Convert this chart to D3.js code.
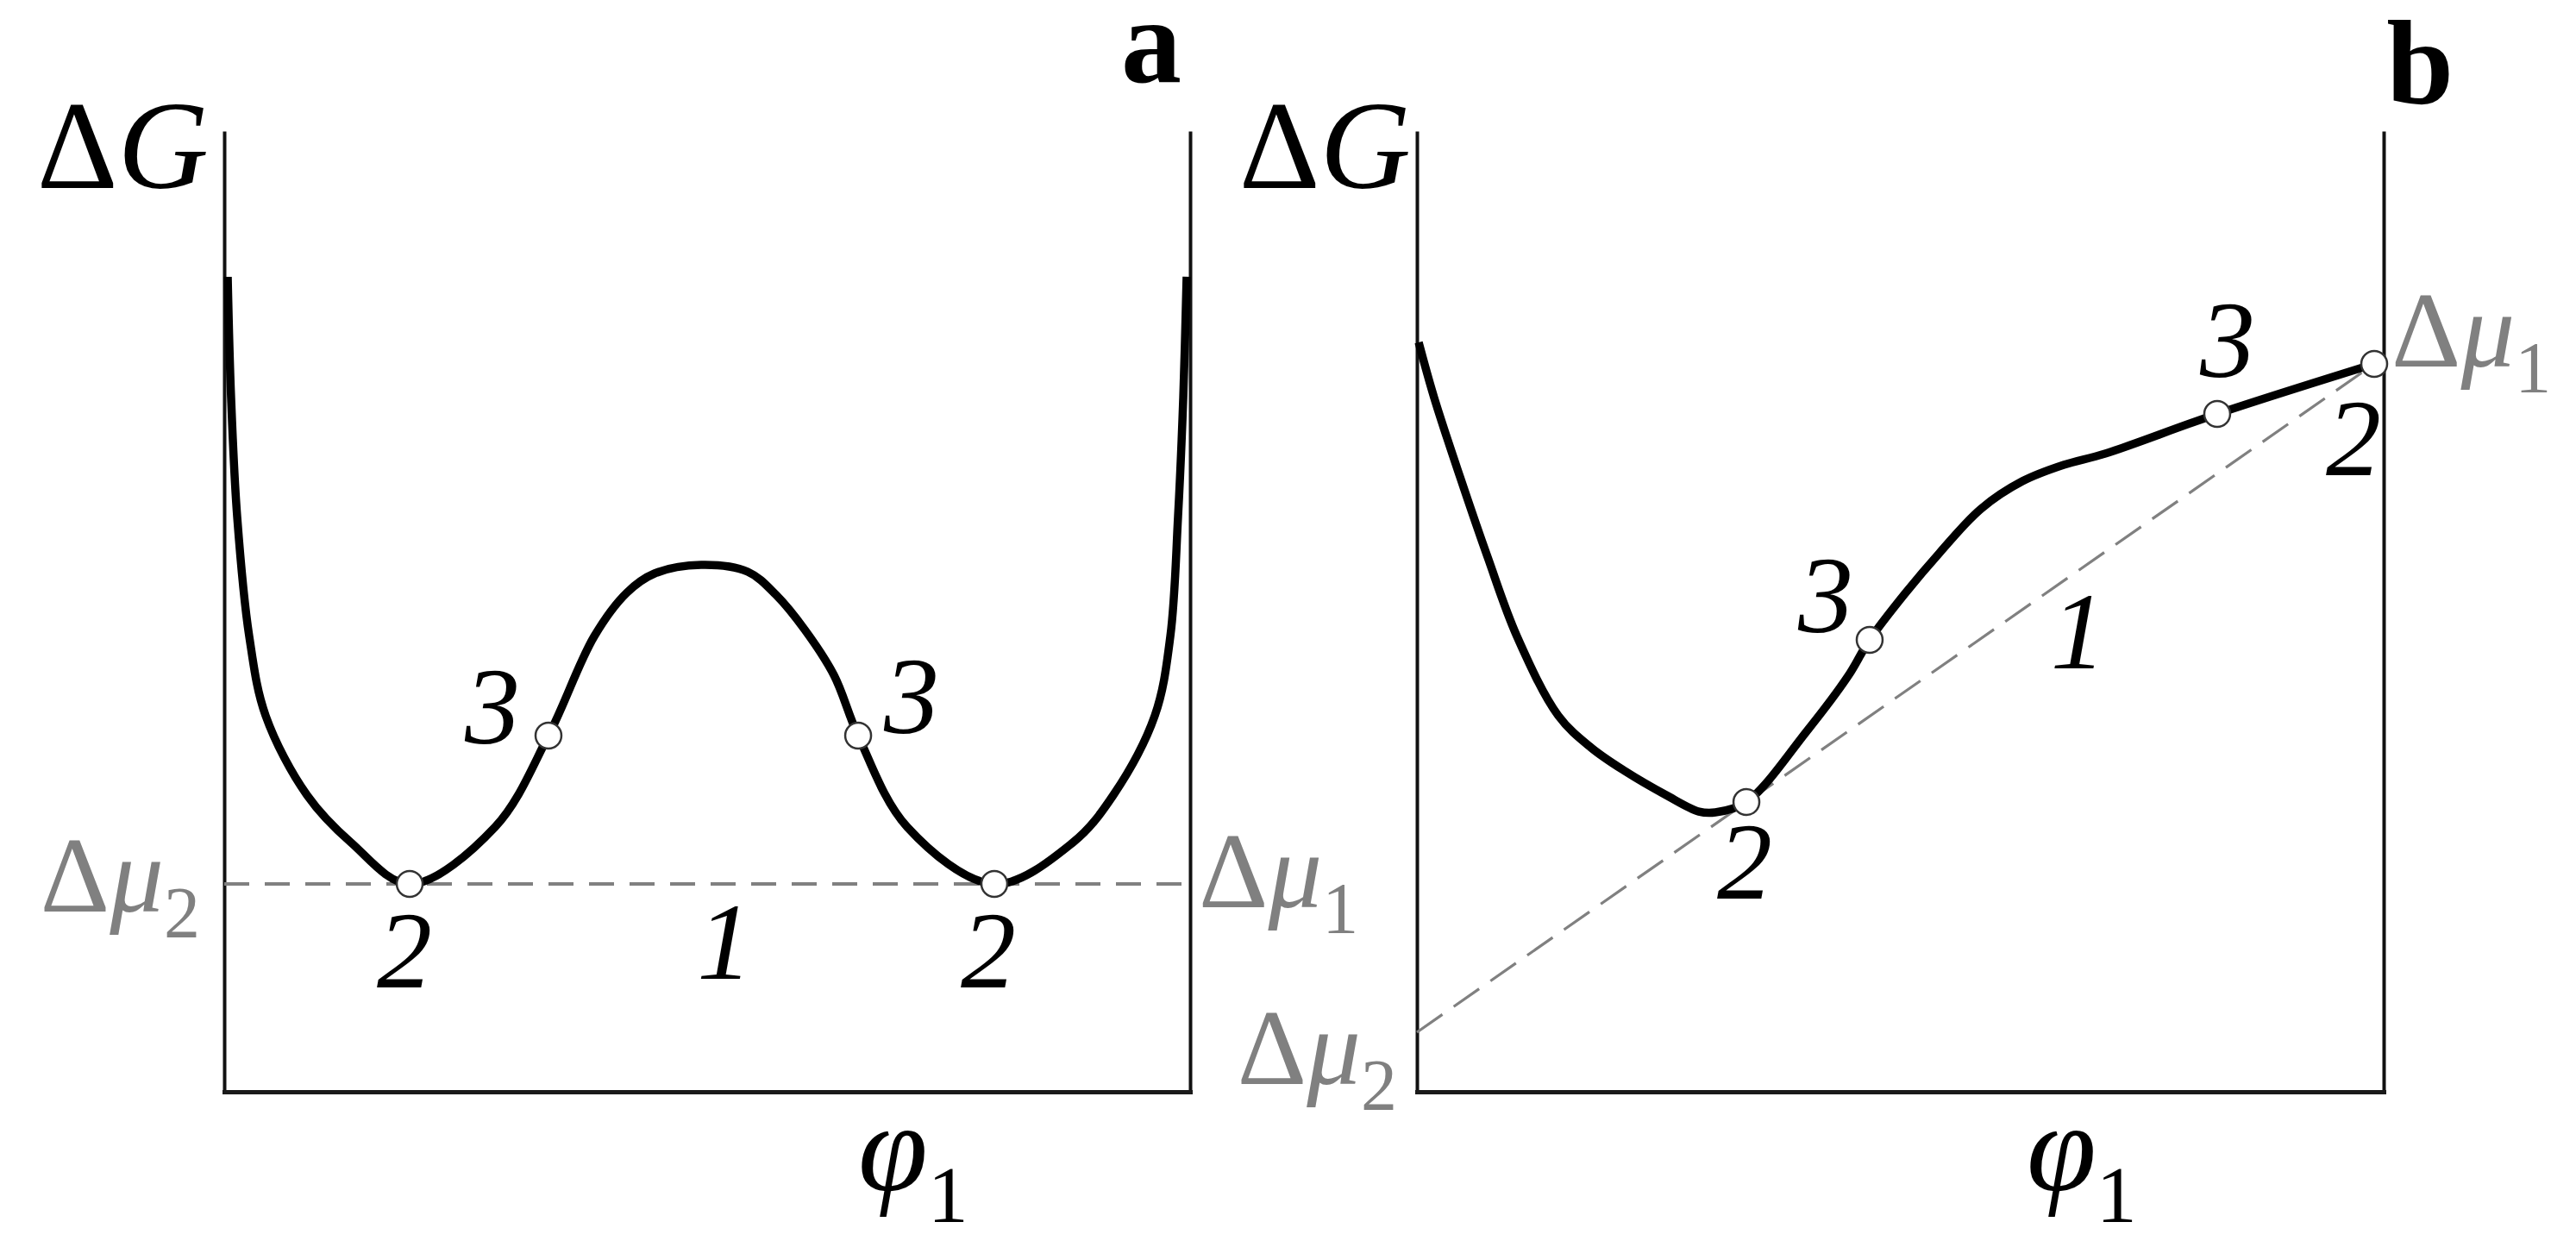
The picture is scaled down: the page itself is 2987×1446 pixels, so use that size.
<!DOCTYPE html>
<html>
<head>
<meta charset="utf-8">
<script src="https://cdn.jsdelivr.net/npm/d3@7"></script>
<style>
  body { margin: 0; background: #fff; }
</style>
</head>
<body>
<div id="chart"></div>
<script>
const svgWidth = 2987;
const svgHeight = 1446;

// panel a: symmetric double well (0..100 units)
const phiA = [0.36, 0.71, 1.34, 2.59, 4.29, 8.57, 13.13, 19.20, 28.04, 33.57, 38.30, 41.70, 44.55, 49.38,
              54.20, 57.14, 60.09, 63.13, 65.63, 70.71, 79.73, 87.86, 92.05, 96.34, 97.95, 98.75, 99.29, 99.64];
const gA   = [84.83, 72.26, 59.87, 47.40, 39.14, 30.88, 25.94, 21.63, 27.56, 37.07, 47.40, 51.97, 53.95, 54.85,
              54.13, 51.71, 48.11, 43.36, 37.07, 27.56, 21.63, 25.94, 30.88, 39.14, 47.40, 59.87, 72.26, 84.83];
const markPhiA = [19.20, 33.57, 65.63, 79.73];
const markGA   = [21.63, 37.07, 37.07, 21.63];
const markLabA = ["2", "3", "3", "2"];
const muA = 21.63;   // common tangent level, Δμ1 = Δμ2

// panel b: asymmetric curve with a sloped common tangent
const phiB = [0.18, 1.78, 4.46, 7.31, 10.35, 14.63, 18.02, 21.50, 25.78, 29.17, 30.87, 34.08, 40.32, 44.60,
              46.83, 50.58, 54.06, 58.34, 62.62, 66.91, 71.19, 82.78, 99.02];
const gB   = [78.01, 72.26, 64.00, 55.66, 47.40, 39.14, 35.82, 33.39, 30.88, 29.17, 29.08, 30.16, 37.52, 43.27,
              47.04, 51.97, 56.10, 60.68, 63.55, 65.26, 66.43, 70.56, 75.76];
const markPhiB = [34.08, 46.83, 82.78, 99.02];
const markGB   = [30.16, 47.04, 70.56, 75.76];
const markLabB = ["2", "3", "3", "2"];
const tangentPhiB = [0, 99.02];
const tangentGB   = [6.19, 75.76];

const serif = "'Times New Roman', 'Liberation Serif', Times, serif";

const svg = d3.select("#chart")
  .append("svg")
  .attr("width", svgWidth)
  .attr("height", svgHeight)
  .attr("font-family", serif);

const yScale = d3.scaleLinear().domain([0, 100]).range([1266, 152]);
const xScaleA = d3.scaleLinear().domain([0, 100]).range([260, 1380]);
const xScaleB = d3.scaleLinear().domain([0, 100]).range([1643, 2764]);

const grey = "#808080";

function drawFrame(x) {
  // left, right and bottom lines, no ticks
  const left = svg.append("g")
    .attr("transform", `translate(${x(0)},0)`)
    .call(d3.axisLeft(yScale).tickValues([]).tickSizeOuter(0));
  const right = svg.append("g")
    .attr("transform", `translate(${x(100)},0)`)
    .call(d3.axisRight(yScale).tickValues([]).tickSizeOuter(0));
  const bottom = svg.append("g")
    .attr("transform", `translate(0,${yScale(0)})`)
    .call(d3.axisBottom(x).tickValues([]).tickSizeOuter(0));
  left.select(".domain").attr("stroke", "#111").attr("stroke-width", 4);
  right.select(".domain").attr("stroke", "#111").attr("stroke-width", 4);
  bottom.select(".domain").attr("stroke", "#1a1a1a").attr("stroke-width", 5)
    .attr("stroke-linecap", "square");
}

function drawCurve(x, phi, g) {
  const line = d3.line()
    .x(d => x(d[0]))
    .y(d => yScale(d[1]))
    .curve(d3.curveCatmullRom.alpha(0.5));
  svg.append("path")
    .datum(d3.zip(phi, g))
    .attr("d", line)
    .attr("fill", "none")
    .attr("stroke", "#000")
    .attr("stroke-width", 9.5)
    .attr("stroke-linejoin", "round");
}

function drawMarks(x, phi, g) {
  svg.append("g").selectAll("circle")
    .data(d3.zip(phi, g))
    .enter()
    .append("circle")
    .attr("cx", d => x(d[0]))
    .attr("cy", d => yScale(d[1]))
    .attr("r", 15)
    .attr("fill", "#fff")
    .attr("stroke", "#333")
    .attr("stroke-width", 2.5);
}

function numLabel(px, py, txt, anchor) {
  svg.append("text")
    .attr("x", px).attr("y", py)
    .attr("text-anchor", anchor || "middle")
    .attr("font-size", 128)
    .attr("font-style", "italic")
    .text(txt);
}

function muLabel(px, py, sub, anchor) {
  const t = svg.append("text")
    .attr("x", px).attr("y", py)
    .attr("text-anchor", anchor)
    .attr("font-size", 125)
    .attr("fill", grey);
  t.append("tspan").text("Δ");
  t.append("tspan").attr("font-style", "italic").text("μ");
  t.append("tspan").attr("font-size", 84).attr("dy", 30).text(sub);
}

function gLabel(px) {
  const t = svg.append("text")
    .attr("x", px).attr("y", 218)
    .attr("text-anchor", "end")
    .attr("font-size", 146);
  t.append("tspan").text("Δ");
  t.append("tspan").attr("font-style", "italic").text("G");
}

function phiLabel(px) {
  const t = svg.append("text")
    .attr("x", px).attr("y", 1380)
    .attr("font-size", 146);
  t.append("tspan").attr("font-style", "italic").text("φ");
  t.append("tspan").attr("font-size", 94).attr("dy", 37).text("1");
}

// ---------- panel a ----------
drawFrame(xScaleA);
svg.append("line")
  .attr("x1", xScaleA(0)).attr("x2", xScaleA(100))
  .attr("y1", yScale(muA)).attr("y2", yScale(muA))
  .attr("stroke", grey).attr("stroke-width", 4)
  .attr("stroke-dasharray", "29,18");
drawCurve(xScaleA, phiA, gA);
drawMarks(xScaleA, markPhiA, markGA);

// point labels, offset from the marked points
const offA = [[-6, 120, "middle"], [-33, 9, "end"], [30, -3, "start"], [-7, 120, "middle"]];
markLabA.forEach((lab, i) => {
  numLabel(xScaleA(markPhiA[i]) + offA[i][0], yScale(markGA[i]) + offA[i][1], lab, offA[i][2]);
});
numLabel(xScaleA(51.8), yScale(muA) + 110, "1");

muLabel(xScaleA(0) - 28, yScale(muA) + 32, "2", "end");
muLabel(xScaleA(100) + 10, yScale(muA) + 27, "1", "start");
gLabel(242);
phiLabel(995);
svg.append("text")
  .attr("x", 1370).attr("y", 95)
  .attr("text-anchor", "end")
  .attr("font-size", 140)
  .attr("font-weight", "bold")
  .text("a");

// ---------- panel b ----------
drawFrame(xScaleB);
svg.append("line")
  .attr("x1", xScaleB(tangentPhiB[0])).attr("x2", xScaleB(tangentPhiB[1]))
  .attr("y1", yScale(tangentGB[0])).attr("y2", yScale(tangentGB[1]))
  .attr("stroke", grey).attr("stroke-width", 3.2)
  .attr("stroke-dasharray", "36,16");
drawCurve(xScaleB, phiB, gB);
drawMarks(xScaleB, markPhiB, markGB);

const offB = [[-2, 112, "middle"], [-51, -9, "middle"], [12, -43, "middle"], [-24, 129, "middle"]];
markLabB.forEach((lab, i) => {
  numLabel(xScaleB(markPhiB[i]) + offB[i][0], yScale(markGB[i]) + offB[i][1], lab, offB[i][2]);
});
// "1" under the tangent line
const tanB = d3.scaleLinear().domain(tangentPhiB).range(tangentGB);
numLabel(xScaleB(68.4), yScale(tanB(68.4)) + 113, "1");

muLabel(xScaleB(0) - 23, yScale(tangentGB[0]) + 60, "2", "end");
muLabel(xScaleB(100) + 9, yScale(tangentGB[1]) + 3, "1", "start");
gLabel(1636);
phiLabel(2350);
svg.append("text")
  .attr("x", 2845).attr("y", 120)
  .attr("text-anchor", "end")
  .attr("font-size", 140)
  .attr("font-weight", "bold")
  .text("b");
</script>
</body>
</html>
